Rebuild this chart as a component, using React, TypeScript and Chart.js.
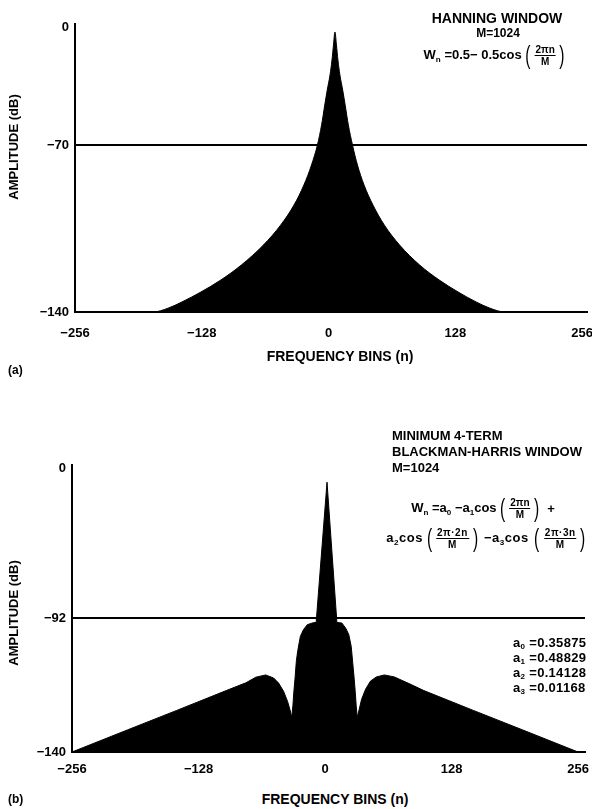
import React, { useEffect, useRef } from "react";
import { Chart, registerables, LinearScale } from "chart.js";

Chart.register(...registerables);

// ---------- data ----------
const X_TICKS = [-256, -128, 0, 128, 256];
const X_TICK_LABELS = ["\u2212256", "\u2212128", "0", "128", "256"];

// (a) Hanning window, amplitude in dB per frequency bin
const HANN_BINS = [
  -256,
  -177, -162, -148.1, -128.8, -108.8, -88, -65.7, -48.4, -34.9, -24.9, -17.2, -11.2, -7.0, -3.8, -1.3, 1.5, 3.5, 5.0,
  6.5,
  8.0, 9.5, 11.5, 14.3, 16.8, 20.0, 24.2, 29.2, 35.9, 44.9, 56.4, 71.7, 92, 111.8, 130.8, 149.1, 163, 178,
  256,
];
const HANN_DB = [
  -140,
  -140, -138.4, -135.8, -131.6, -126.6, -120.3, -111.9, -103.6, -95.2, -86.8, -78.4, -70, -58.1, -46.3, -37.4, -28.5, -19.6, -10.7,
  -3.0,
  -10.7, -19.6, -28.5, -37.4, -46.3, -58.1, -70, -78.4, -86.8, -95.2, -103.6, -111.9, -120.3, -126.6, -131.6, -135.8, -138.4, -140,
  -140,
];
const HANN_REF_DB = -70;
const HANN_Y_TICKS = [0, -70, -140];
const HANN_Y_LABELS = ["0", "\u221270", "\u2212140"];

// (b) Minimum 4-term Blackman-Harris window
const BH_BINS = [
  -256, -200, -150, -100, -80, -70, -60, -52, -47, -42, -38, -35.5, -33.7, -32.5, -31.5, -30.4, -29, -27.6, -25, -22, -18, -12, -9,
  2,
  12, 17, 21, 24, 26.5, 28, 29.5, 30.5, 31.5, 32.5, 34.5, 37, 41, 46, 52, 60, 70, 85, 100, 150, 200, 256,
];
const BH_DB = [
  -140, -132.1, -125.1, -118.0, -115.2, -113.2, -112.4, -113.5, -115.3, -118.2, -121.8, -124.8, -127.6, -123.3, -118.2, -113.8, -107.3, -103.7, -98.6, -96.3, -94.4, -93.7, -93.6,
  -8.7,
  -93.6, -93.8, -95.7, -97.9, -102.2, -108.0, -113.8, -118.2, -123.3, -127.6, -124.8, -121.1, -117.5, -114.6, -113.1, -112.4, -113.1, -115.5, -118.0, -125.1, -132.1, -140,
];
const BH_REF_DB = -92;
const BH_Y_TICKS = [0, -92, -140];
const BH_Y_LABELS = ["0", "\u221292", "\u2212140"];

const BH_COEFS = ["0.35875", "0.48829", "0.14128", "0.01168"];

// ---------- scale with a bend at the reference level ----------
function kneeScale(id: string, values: number[], decimals: number[]) {
  return class extends LinearScale {
    static id = id;
    static defaults = (LinearScale as any).defaults;
    getPixelForValue(value: any) {
      if (value === null || value === undefined || isNaN(value)) return NaN;
      let i = 0;
      while (i < values.length - 2 && value > values[i + 1]) i++;
      const d =
        decimals[i] + ((value - values[i]) * (decimals[i + 1] - decimals[i])) / (values[i + 1] - values[i]);
      return (this as any).getPixelForDecimal(d);
    }
  };
}

const HannScale = kneeScale("kneeHann", [-140, -70, 0], [0, 0.5799, 0.9896]);
const BhScale = kneeScale("kneeBH", [-140, -92, 0], [0, 0.4669, 0.9895]);
Chart.register(HannScale as any, BhScale as any);

const FONT = '"Liberation Sans", Arial, Helvetica, sans-serif';

function noPad(s: any) {
  s.paddingLeft = 0;
  s.paddingRight = 0;
  s.paddingTop = 0;
  s.paddingBottom = 0;
}

function buildChart(
  canvas: HTMLCanvasElement,
  cfg: {
    bins: number[];
    db: number[];
    refDb: number;
    yTicks: number[];
    yLabels: string[];
    scaleType: string;
    yMax: number;
    xMax: number;
    padRight: number;
    padTop: number;
    yWidth: number;
    xPad: number;
    smooth: boolean;
  }
) {
  const tickFont = { family: FONT, size: 13, weight: "bold" as const };
  return new Chart(canvas, {
    type: "line",
    data: {
      datasets: [
        {
          data: [
            { x: -256, y: cfg.refDb },
            { x: cfg.xMax, y: cfg.refDb },
          ],
          borderColor: "#000",
          borderWidth: 2,
          pointRadius: 0,
          fill: false,
        },
        {
          data: cfg.bins.map((b, i) => ({ x: b, y: cfg.db[i] })),
          borderColor: "#000",
          backgroundColor: "#000",
          borderWidth: 1,
          pointRadius: 0,
          fill: "start",
          tension: 0,
          ...(cfg.smooth ? { cubicInterpolationMode: "monotone" } : {}),
        },
      ],
    },
    options: {
      animation: false,
      responsive: false,
      devicePixelRatio: 1,
      events: [],
      layout: { autoPadding: false, padding: { left: 0, right: cfg.padRight, top: cfg.padTop, bottom: 0 } },
      plugins: { legend: { display: false }, tooltip: { enabled: false } },
      scales: {
        x: {
          type: "linear",
          min: -256,
          max: cfg.xMax,
          grid: { display: false, drawTicks: false },
          border: { display: true, color: "#000", width: 2 },
          afterBuildTicks: (s: any) => {
            s.ticks = X_TICKS.map((v) => ({ value: v }));
          },
          afterFit: (s: any) => {
            s.height = 38;
            noPad(s);
          },
          ticks: {
            autoSkip: false,
            maxRotation: 0,
            padding: cfg.xPad,
            color: "#000",
            font: tickFont,
            callback: (_v: any, i: number) => X_TICK_LABELS[i],
          },
        },
        y: {
          type: cfg.scaleType as any,
          min: -140,
          max: cfg.yMax,
          grid: { display: false, drawTicks: false },
          border: { display: true, color: "#000", width: 2 },
          afterBuildTicks: (s: any) => {
            s.ticks = cfg.yTicks.map((v) => ({ value: v }));
          },
          afterFit: (s: any) => {
            s.width = cfg.yWidth;
            noPad(s);
          },
          ticks: {
            autoSkip: false,
            padding: 6,
            color: "#000",
            font: tickFont,
            callback: (_v: any, i: number) => cfg.yLabels[i],
          },
        },
      },
    } as any,
  });
}

// ---------- text helpers ----------
const T = ({
  x,
  y,
  children,
  align = "center",
  size = 13,
  style = {},
}: {
  x: number;
  y: number;
  children: any;
  align?: "center" | "left";
  size?: number;
  style?: any;
}) => (
  <div
    style={{
      position: "absolute",
      left: x,
      top: y,
      transform: align === "center" ? "translate(-50%,-50%)" : "translate(0,-50%)",
      fontSize: size,
      fontWeight: 700,
      whiteSpace: "nowrap",
      lineHeight: 1,
      display: "flex",
      alignItems: "center",
      ...style,
    }}
  >
    {children}
  </div>
);

const Sub = ({ children }: { children: any }) => (
  <span style={{ fontSize: "0.62em", position: "relative", top: "0.3em" }}>{children}</span>
);

const Paren = ({ c }: { c: string }) => (
  <span style={{ fontSize: 26, fontWeight: 300, lineHeight: 1, display: "inline-block", transform: "scaleX(0.6)", margin: "0 2px" }}>
    {c}
  </span>
);

const Frac = ({ num, den }: { num: any; den: any }) => (
  <span style={{ display: "inline-flex", alignItems: "center" }}>
    <Paren c="(" />
    <span style={{ display: "inline-flex", flexDirection: "column", alignItems: "center", fontSize: 10, lineHeight: "11px" }}>
      <span style={{ borderBottom: "1.5px solid #000", padding: "0 1px" }}>{num}</span>
      <span>{den}</span>
    </span>
    <Paren c=")" />
  </span>
);

export default function App() {
  const topRef = useRef<HTMLCanvasElement>(null);
  const botRef = useRef<HTMLCanvasElement>(null);

  useEffect(() => {
    const a = buildChart(topRef.current!, {
      bins: HANN_BINS,
      db: HANN_DB,
      refDb: HANN_REF_DB,
      yTicks: HANN_Y_TICKS,
      yLabels: HANN_Y_LABELS,
      scaleType: "kneeHann",
      yMax: 1.8,
      xMax: 261,
      padRight: 5,
      padTop: 24,
      yWidth: 75,
      xPad: 14,
      smooth: true,
    });
    const b = buildChart(botRef.current!, {
      bins: BH_BINS,
      db: BH_DB,
      refDb: BH_REF_DB,
      yTicks: BH_Y_TICKS,
      yLabels: BH_Y_LABELS,
      scaleType: "kneeBH",
      yMax: 1.8,
      xMax: 263,
      padRight: 7,
      padTop: 25,
      yWidth: 72,
      xPad: 10,
      smooth: false,
    });
    return () => {
      a.destroy();
      b.destroy();
    };
  }, []);

  return (
    <div
      style={{
        position: "fixed",
        left: 0,
        top: 0,
        width: 592,
        height: 809,
        background: "#fff",
        color: "#000",
        fontFamily: FONT,
        overflow: "hidden",
      }}
    >
      <canvas ref={topRef} width={592} height={350} style={{ position: "absolute", left: 0, top: 0 }} />
      <canvas ref={botRef} width={592} height={350} style={{ position: "absolute", left: 0, top: 440 }} />

      {/* (a) texts */}
      <T x={13} y={147} style={{ transform: "translate(-50%,-50%) rotate(-90deg)" }}>
        AMPLITUDE (dB)
      </T>
      <T x={340} y={356} size={14}>
        FREQUENCY BINS (n)
      </T>
      <T x={8} y={370} align="left" size={12}>
        (a)
      </T>
      <T x={497} y={18} size={14}>
        HANNING WINDOW
      </T>
      <T x={498} y={33} size={12}>
        M=1024
      </T>
      <T x={496} y={55} size={13}>
        <span>
          W<Sub>n</Sub> =0.5− 0.5cos
        </span>
        <Frac num="2πn" den="M" />
      </T>

      {/* (b) texts */}
      <T x={13} y={613} style={{ transform: "translate(-50%,-50%) rotate(-90deg)" }}>
        AMPLITUDE (dB)
      </T>
      <T x={335} y={799} size={14}>
        FREQUENCY BINS (n)
      </T>
      <T x={8} y={799} align="left" size={12}>
        (b)
      </T>
      <T x={392} y={435} align="left" size={13}>
        MINIMUM 4-TERM
      </T>
      <T x={392} y={451} align="left" size={13}>
        BLACKMAN-HARRIS WINDOW
      </T>
      <T x={392} y={467} align="left" size={13}>
        M=1024
      </T>
      <T x={483} y={508} size={13}>
        <span>
          W<Sub>n</Sub> =a<Sub>0</Sub> −a<Sub>1</Sub>cos
        </span>
        <Frac num="2πn" den="M" />
        <span style={{ marginLeft: 4 }}>+</span>
      </T>
      <T x={488} y={538} size={13} style={{ letterSpacing: 0.5 }}>
        <span>
          a<Sub>2</Sub>cos
        </span>
        <Frac num="2π·2n" den="M" />
        <span style={{ margin: "0 2px" }}>
          −a<Sub>3</Sub>cos
        </span>
        <Frac num="2π·3n" den="M" />
      </T>
      {BH_COEFS.map((c, i) => (
        <T key={i} x={513} y={643 + i * 15} align="left" size={13} style={{ letterSpacing: 0.3 }}>
          <span>
            a<Sub>{i}</Sub> ={c}
          </span>
        </T>
      ))}
    </div>
  );
}
